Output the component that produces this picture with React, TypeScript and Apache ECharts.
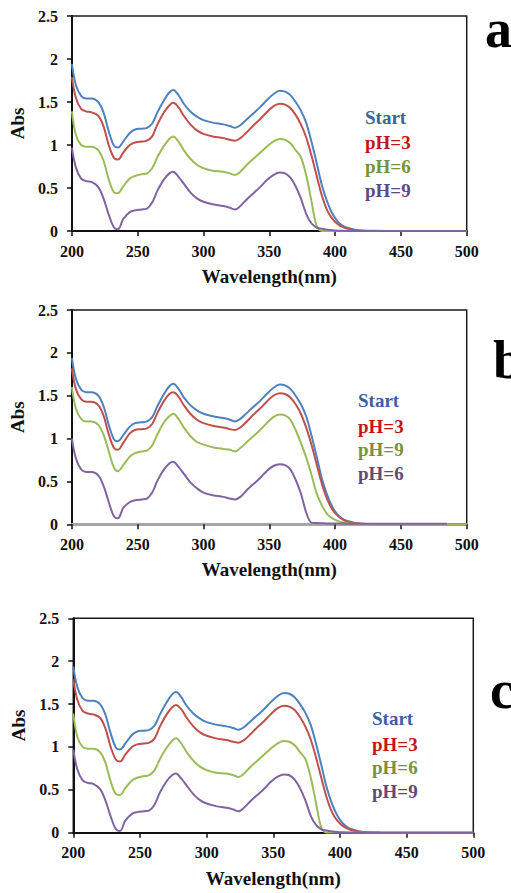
import React, { useEffect, useRef } from "react";
import * as echarts from "echarts";

// Wavelength grid (nm)
const wavelengths = [200,203,207,211,215,220,224,228,232,235,239,244,248,253,257,261,265,270,274,277,281,285,290,295,300,307,315,320,324,328,333,338,343,348,353,358,362,366,370,374,378,382,386,390,394,398,402,406,410,415,420,430,450,475,485,500];

// Panel a / c
const startA = [1.94,1.70,1.57,1.54,1.54,1.50,1.38,1.16,0.99,0.97,1.04,1.14,1.18,1.19,1.20,1.25,1.38,1.52,1.61,1.64,1.58,1.48,1.39,1.33,1.29,1.26,1.24,1.22,1.20,1.23,1.30,1.37,1.44,1.52,1.59,1.63,1.62,1.58,1.50,1.40,1.26,1.04,0.79,0.53,0.34,0.20,0.11,0.06,0.035,0.015,0.006,0.002,0,0,0,0];
const ph3A = [1.79,1.55,1.42,1.39,1.38,1.34,1.22,1.00,0.85,0.83,0.91,1.00,1.03,1.04,1.05,1.10,1.24,1.38,1.46,1.49,1.44,1.34,1.24,1.17,1.13,1.10,1.08,1.06,1.05,1.08,1.15,1.23,1.30,1.38,1.45,1.48,1.47,1.43,1.35,1.24,1.09,0.88,0.64,0.41,0.24,0.14,0.08,0.045,0.025,0.01,0.004,0.001,0,0,0,0];
const ph6A = [1.39,1.12,1.00,0.98,0.98,0.94,0.82,0.60,0.45,0.44,0.52,0.61,0.64,0.66,0.67,0.73,0.86,0.99,1.07,1.10,1.04,0.94,0.84,0.77,0.73,0.70,0.69,0.67,0.65,0.69,0.77,0.84,0.91,0.98,1.04,1.07,1.06,1.02,0.94,0.86,0.65,0.35,0.06,0,0,0,0,0,0,0,0,0,0,0,0,0];
const ph9A = [0.97,0.74,0.61,0.58,0.57,0.51,0.38,0.19,0.04,0.02,0.14,0.22,0.24,0.25,0.26,0.33,0.47,0.60,0.67,0.69,0.63,0.55,0.45,0.38,0.34,0.31,0.29,0.27,0.25,0.29,0.37,0.44,0.51,0.59,0.65,0.68,0.67,0.62,0.52,0.38,0.20,0.09,0.04,0.025,0.015,0.008,0.004,0.002,0.001,0,0,0,0,0,0,0];

// Panel b
const startB = startA;
const ph3B = [1.82,1.58,1.46,1.43,1.43,1.39,1.27,1.05,0.89,0.87,0.95,1.06,1.10,1.11,1.12,1.17,1.30,1.44,1.52,1.54,1.49,1.39,1.29,1.22,1.18,1.15,1.13,1.11,1.10,1.13,1.20,1.28,1.35,1.43,1.50,1.53,1.52,1.48,1.40,1.29,1.13,0.93,0.70,0.47,0.29,0.17,0.10,0.055,0.03,0.012,0.005,0.001,0,0,0,0];
const ph9B = [1.60,1.35,1.23,1.20,1.20,1.16,1.05,0.85,0.66,0.62,0.69,0.79,0.83,0.85,0.86,0.92,1.05,1.19,1.26,1.29,1.23,1.13,1.03,0.96,0.93,0.90,0.88,0.87,0.85,0.89,0.96,1.03,1.10,1.18,1.25,1.28,1.27,1.22,1.10,0.95,0.78,0.58,0.36,0.22,0.12,0.07,0.04,0.02,0.01,0.004,0.002,0,0,0,0,0];
const ph6B = [1.00,0.77,0.64,0.61,0.61,0.57,0.45,0.26,0.09,0.07,0.19,0.26,0.28,0.29,0.30,0.37,0.51,0.64,0.71,0.73,0.67,0.59,0.49,0.42,0.37,0.34,0.32,0.30,0.29,0.32,0.40,0.47,0.54,0.62,0.68,0.70,0.69,0.64,0.52,0.36,0.14,0.02,0.015,0.012,0.01,0.01,0.008,0.008,0.007,0.006,0.006,0.005,0.005,0.005,0.005,null];

const xTicks = { min: 200, max: 500, interval: 50 };
const yTicks = { min: 0, max: 2.5, interval: 0.5 };

const legendA = ["Start", "pH=3", "pH=6", "pH=9"];
const legendB = ["Start", "pH=3", "pH=9", "pH=6"];
const panelLetters = ["a", "b", "c"];

const lineColors = ["#4F81BD", "#C0504D", "#9BBB59", "#8064A2"];
const textColors = ["#3A62A0", "#C0161B", "#76923C", "#604A7B"];

const FONT = '"Liberation Serif", "Times New Roman", serif';

export default function App() {
  const ref = useRef<HTMLDivElement>(null);
  useEffect(() => {
    if (!ref.current) return;
    const chart = echarts.init(ref.current, null, { renderer: "svg" });

    const grids = [
      { left: 66.7, top: 16, width: 400, height: 215 },
      { left: 66.7, top: 310, width: 400, height: 214.3 },
      { left: 73.3, top: 618.3, width: 400, height: 214.4 },
    ];
    const panels = [
      { series: [startA, ph3A, ph6A, ph9A], names: legendA, axisColor: "#111" },
      { series: [startB, ph3B, ph9B, ph6B], names: legendB, axisColor: "#a6a6a6" },
      { series: [startA, ph3A, ph6A, ph9A], names: legendA, axisColor: "#111" },
    ];
    const legendPos = [
      { x: 365, y: [117, 142, 166, 190] },
      { x: 358, y: [400, 426, 449, 473] },
      { x: 372, y: [718, 744, 767, 791] },
    ];
    const letterPos = [
      { x: 485, y: 29 },
      { x: 493, y: 360 },
      { x: 490, y: 690 },
    ];

    const xAxis: any[] = [];
    const yAxis: any[] = [];
    const series: any[] = [];
    const graphic: any[] = [];

    panels.forEach((p, gi) => {
      xAxis.push({
        type: "value",
        gridIndex: gi,
        ...xTicks,
        name: "Wavelength(nm)",
        nameLocation: "middle",
        nameGap: 36,
        nameTextStyle: { fontFamily: FONT, fontWeight: "bold", fontSize: 19, color: "#111" },
        axisLine: { show: true, lineStyle: { color: p.axisColor, width: gi === 1 ? 3 : 2 } },
        axisTick: { show: true, inside: false, length: 5, lineStyle: { color: "#111", width: 1.5 } },
        axisLabel: { margin: 12, fontFamily: FONT, fontWeight: "bold", fontSize: 16, color: "#111" },
        splitLine: { show: false },
      });
      yAxis.push({
        type: "value",
        gridIndex: gi,
        ...yTicks,
        name: "Abs",
        nameLocation: "middle",
        nameGap: 40,
        nameTextStyle: { fontFamily: FONT, fontWeight: "bold", fontSize: 19, color: "#111" },
        axisLine: { show: true, lineStyle: { color: "#111", width: 2 } },
        axisTick: { show: true, inside: false, length: 5, lineStyle: { color: "#111", width: 1.5 } },
        axisLabel: { margin: 14, fontFamily: FONT, fontWeight: "bold", fontSize: 16, color: "#111" },
        splitLine: { show: false },
      });
      const colorOrder = gi === 1 ? [0, 1, 2, 3] : [0, 1, 2, 3];
      p.series.forEach((vals, si) => {
        series.push({
          type: "line",
          name: `${panelLetters[gi]}-${p.names[si]}`,
          xAxisIndex: gi,
          yAxisIndex: gi,
          data: wavelengths.map((w, i) => [w, vals[i]]),
          showSymbol: false,
          symbol: "none",
          smooth: 0.35,
          lineStyle: { color: lineColors[colorOrder[si]], width: 2 },
          itemStyle: { color: lineColors[colorOrder[si]] },
          z: 2 + si,
        });
        graphic.push({
          type: "text",
          x: legendPos[gi].x,
          y: legendPos[gi].y[si],
          style: {
            text: p.names[si],
            fill: textColors[si],
            font: `bold 19px ${FONT}`,
            align: "left",
            verticalAlign: "middle",
          },
        });
      });
      graphic.push({
        type: "text",
        x: letterPos[gi].x,
        y: letterPos[gi].y,
        style: {
          text: panelLetters[gi],
          fill: "#000",
          font: `bold 54px ${FONT}`,
          align: "left",
          verticalAlign: "middle",
        },
      });
    });

    chart.setOption({
      animation: false,
      backgroundColor: "#fff",
      grid: grids.map((g) => ({ ...g, show: true, borderColor: "#1a1a1a", borderWidth: 1.5, containLabel: false })),
      xAxis,
      yAxis,
      series,
      graphic,
    });
    return () => chart.dispose();
  }, []);

  return (
    <div
      ref={ref}
      style={{ position: "absolute", left: 0, top: 0, width: 511, height: 893, background: "#fff" }}
    />
  );
}
